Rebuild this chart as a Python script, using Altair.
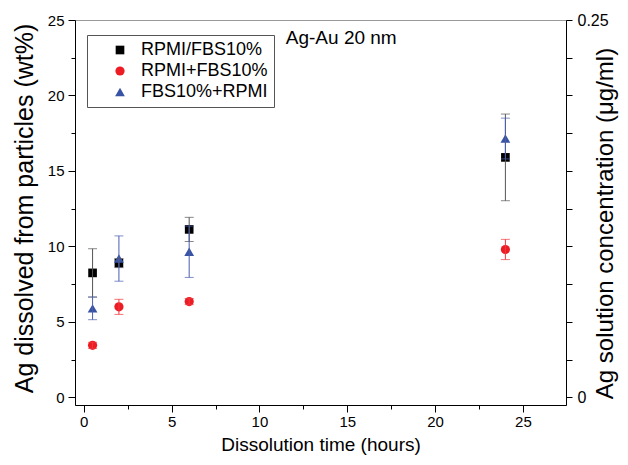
import altair as alt
import pandas as pd

# ---- data ----
time_h = [0.5, 2, 6, 24]
series_names = ["RPMI/FBS10%", "RPMI+FBS10%", "FBS10%+RPMI"]
rpmi_fbs = [8.25, 8.9, 11.13, 15.9]
rpmi_fbs_err = [1.6, 0.3, 0.8, 2.87]
rpmi_plus = [3.45, 6.0, 6.35, 9.8]
rpmi_plus_err = [0.2, 0.5, 0.2, 0.67]
fbs_rpmi = [5.9, 9.2, 9.65, 17.15]
fbs_rpmi_err = [0.75, 1.5, 1.7, 1.35]

marker_colors = ["#000000", "#ed1c24", "#3953a4"]
bar_colors = ["#555555", "#f0393f", "#4b5eb0"]
shapes = ["square", "circle", "triangle-up"]
marker_sizes = [75, 95, 210]

left_ticks = [0, 2.5, 5, 7.5, 10, 12.5, 15, 17.5, 20, 22.5, 25]
x_ticks = [0, 2.5, 5, 7.5, 10, 12.5, 15, 17.5, 20, 22.5, 25]
right_ticks = [0, 0.025, 0.05, 0.075, 0.1, 0.125, 0.15, 0.175, 0.2, 0.225, 0.25]

annot_text = ["Ag-Au 20 nm"]
annot_x = [11.5]
annot_y = [23.8]

FONT = "Liberation Sans"

vals = [rpmi_fbs, rpmi_plus, fbs_rpmi]
errs = [rpmi_fbs_err, rpmi_plus_err, fbs_rpmi_err]
rows = []
for name, v, e in zip(series_names, vals, errs):
    for t, yv, ev in zip(time_h, v, e):
        rows.append({"time": t, "val": yv, "lo": yv - ev, "hi": yv + ev, "series": name})
df = pd.DataFrame(rows)

xscale = alt.Scale(domain=[-0.5, 27.45], nice=False, zero=False)
yscale = alt.Scale(domain=[-0.5, 25], nice=False, zero=False)

minor_tick = {"condition": {"test": "datum.value % 5 != 0", "value": 4}, "value": 7}

x_axis = alt.Axis(
    values=x_ticks, title="Dissolution time (hours)", grid=False,
    labelExpr="datum.value % 5 == 0 ? datum.label : ''",
    tickSize=minor_tick,
    tickColor="black", domainColor="black", labelFontSize=15, titleFontSize=19,
    labelFont=FONT, titleFont=FONT, titleFontWeight="normal", labelColor="black",
    titleColor="black", labelPadding=2, titlePadding=6,
)
y_axis = alt.Axis(
    values=left_ticks, title="Ag dissolved from particles (wt%)", grid=False,
    labelExpr="datum.value % 5 == 0 ? datum.label : ''",
    tickSize=minor_tick,
    tickColor="black", domainColor="black", labelFontSize=15, titleFontSize=25,
    labelFont=FONT, titleFont=FONT, titleFontWeight="normal", labelColor="black",
    titleColor="black", labelPadding=4, titlePadding=10, titleY=188,
)

points = alt.Chart(df).mark_point(filled=True, opacity=1).encode(
    x=alt.X("time:Q", scale=xscale, axis=x_axis),
    y=alt.Y("val:Q", scale=yscale, axis=y_axis),
    color=alt.Color("series:N", scale=alt.Scale(domain=series_names, range=marker_colors),
                    legend=alt.Legend(orient="none", legendX=12, legendY=15, title=None,
                                      labelFontSize=18, labelFont=FONT, labelColor="black",
                                      symbolSize=40, strokeColor="#555555", padding=6,
                                      rowPadding=3, symbolOffset=18, labelOffset=12,
                                      fillColor="white", symbolStrokeWidth=0)),
    shape=alt.Shape("series:N", scale=alt.Scale(domain=series_names, range=shapes)),
    size=alt.Size("series:N", scale=alt.Scale(domain=series_names, range=marker_sizes), legend=None),
)

bar_layers = []
for name, col in zip(series_names, bar_colors):
    bar_layers.append(
        alt.Chart(df).transform_filter(alt.datum.series == name).mark_errorbar(
            ticks={"size": 9, "thickness": 1, "color": col}, rule={"strokeWidth": 1, "color": col},
            color=col,
        ).encode(
            x=alt.X("time:Q", scale=xscale, axis=x_axis),
            y=alt.Y("lo:Q", scale=yscale, axis=y_axis, title="Ag dissolved from particles (wt%)"),
            y2="hi:Q",
        )
    )

annot_df = pd.DataFrame({"x": annot_x, "y": annot_y, "text": annot_text})
annot = alt.Chart(annot_df).mark_text(align="left", baseline="middle", fontSize=19,
                                      font=FONT, color="black").encode(
    x=alt.X("x:Q", scale=xscale, axis=x_axis),
    y=alt.Y("y:Q", scale=yscale, axis=y_axis),
    text="text:N",
)

inner = alt.layer(points, *bar_layers, annot)

right_df = pd.DataFrame({"time": [0, 0], "conc": [0, 0.25]})
right = alt.Chart(right_df).mark_point(opacity=0).encode(
    x=alt.X("time:Q", scale=xscale, axis=x_axis),
    y=alt.Y("conc:Q", scale=alt.Scale(domain=[-0.005, 0.25], nice=False, zero=False),
            axis=alt.Axis(orient="right", values=right_ticks, grid=False,
                          title="Ag solution concentration (\u03bcg/ml)",
                          labelExpr="datum.value < 0.001 ? '0' : (datum.value > 0.249 ? '0.25' : '')",
                          tickSize=6,
                          tickColor="black", domainColor="black", labelFontSize=16,
                          titleFontSize=24, labelFont=FONT, titleFont=FONT,
                          titleFontWeight="normal", labelColor="black", titleColor="black",
                          titleAngle=270, titleY=203, labelPadding=5, titlePadding=9)),
)

chart = alt.layer(inner, right).resolve_scale(y="independent").properties(
    width=491, height=385,
    autosize=alt.AutoSizeParams(type="none"),
    padding={"left": 67, "top": 12, "right": 54, "bottom": 58},
).configure_view(stroke="#999999", strokeWidth=1).configure_axis(domainWidth=1, tickWidth=1)

chart.save("out.html", embed_options={"renderer": "svg", "actions": False})
